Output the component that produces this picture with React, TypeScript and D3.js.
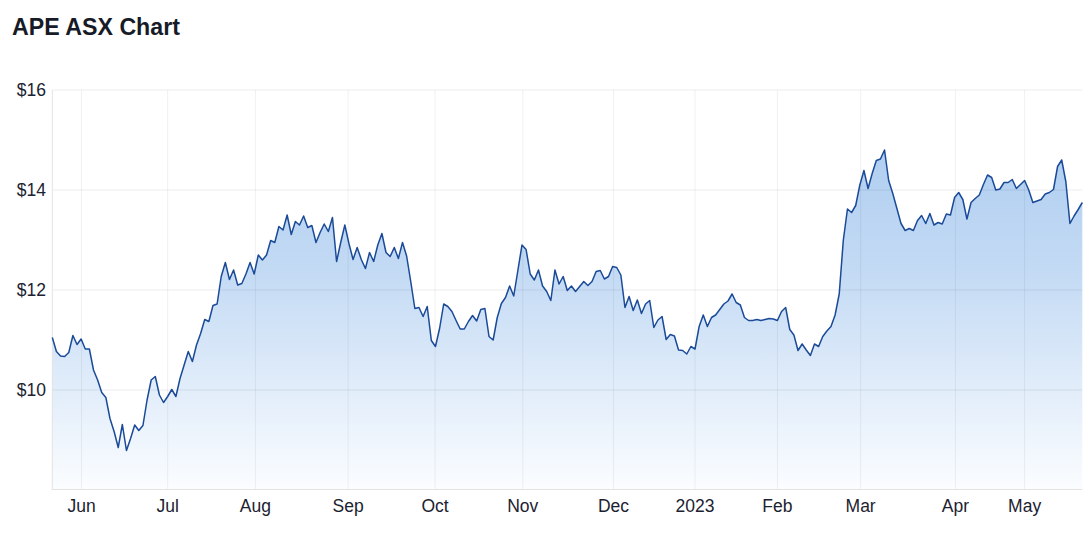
import React from "react";
import * as d3 from "d3";

const prices: number[] = [
  11.05, 10.77, 10.68, 10.67, 10.75, 11.09, 10.91, 11.02, 10.82, 10.82,
  10.4, 10.2, 9.95, 9.85, 9.43, 9.17, 8.85, 9.31, 8.79, 9.03,
  9.3, 9.19, 9.29, 9.8, 10.2, 10.27, 9.9, 9.75, 9.87, 10.01,
  9.87, 10.23, 10.5, 10.77, 10.57, 10.9, 11.13, 11.41, 11.37, 11.69,
  11.72, 12.27, 12.55, 12.21, 12.4, 12.1, 12.13, 12.32, 12.55, 12.32,
  12.7, 12.6,
  12.7, 12.99, 12.95, 13.27, 13.2, 13.5, 13.11, 13.37, 13.3, 13.48,
  13.25, 13.29, 12.95, 13.15, 13.32, 13.17, 13.45, 12.57, 12.95, 13.3,
  12.93, 12.61, 12.85, 12.61, 12.43, 12.75, 12.57, 12.9, 13.13, 12.75,
  12.67, 12.85, 12.63, 12.95, 12.68, 12.17, 11.63, 11.65, 11.47, 11.67,
  10.99, 10.87, 11.23, 11.72, 11.67, 11.57, 11.39, 11.22, 11.22, 11.37,
  11.49, 11.38, 11.61, 11.63, 11.07, 11.0, 11.45, 11.73, 11.85, 12.08,
  11.88, 12.39, 12.9, 12.81, 12.32, 12.2, 12.4, 12.08, 11.97, 11.79,
  12.4, 12.12, 12.27, 11.99, 12.08, 11.97, 12.07, 12.17, 12.09, 12.17,
  12.37, 12.39, 12.22, 12.27, 12.47, 12.45, 12.3, 11.65, 11.87, 11.59,
  11.8, 11.53, 11.72, 11.79, 11.25, 11.4, 11.47, 11.01, 11.11, 11.08,
  10.8, 10.79, 10.72, 10.87, 10.82, 11.27, 11.5, 11.27, 11.45, 11.5,
  11.61, 11.72, 11.78, 11.92, 11.75, 11.7, 11.45, 11.39, 11.39, 11.41,
  11.39, 11.41, 11.43, 11.42, 11.39, 11.57, 11.65, 11.21, 11.1, 10.79,
  10.92, 10.8, 10.69, 10.92, 10.87, 11.07, 11.18, 11.27, 11.5, 11.92,
  13.0, 13.62, 13.55, 13.69, 14.1, 14.39, 14.03, 14.33, 14.59, 14.62,
  14.8, 14.19, 13.93, 13.63, 13.33, 13.19, 13.23, 13.19, 13.39, 13.49,
  13.33, 13.53, 13.3, 13.35, 13.32, 13.52, 13.5, 13.85, 13.95, 13.81,
  13.42, 13.75, 13.83, 13.9, 14.11, 14.3, 14.25, 14.0, 14.02, 14.15,
  14.15, 14.21, 14.03, 14.11, 14.19, 14.0, 13.75, 13.78, 13.81, 13.92,
  13.95, 14.01, 14.47, 14.6, 14.17, 13.33, 13.48, 13.61, 13.75,
];

// month starts, in trading-day position along the series
const monthLabels: string[] = ["Jun", "Jul", "Aug", "Sep", "Oct", "Nov", "Dec", "2023", "Feb", "Mar", "Apr", "May"];
const monthPositions: number[] = [7.1, 28, 49.3, 71.8, 92.9, 114.2, 136.2, 156, 176, 196.2, 219.2, 236];

const yTicks: number[] = [10, 12, 14, 16];
const yDomain: [number, number] = [8, 16];

const W = 1092;
const H = 542;
const M = { left: 52.3, right: 1082.3, top: 90, bottom: 490 };

export default function App() {
  const x = d3.scaleLinear().domain([0, prices.length - 1]).range([M.left, M.right]);
  const y = d3.scaleLinear().domain(yDomain).range([M.bottom, M.top]);

  const line = d3
    .line<number>()
    .x((_, i) => x(i))
    .y((d) => y(d));
  const area = d3
    .area<number>()
    .x((_, i) => x(i))
    .y0(M.bottom)
    .y1((d) => y(d));

  const font = "'Liberation Sans', Arial, Helvetica, sans-serif";
  const textColor = "#1c2230";

  return (
    <svg
      width={W}
      height={H}
      style={{ position: "absolute", left: 0, top: 0, background: "#fff" }}
      fontFamily={font}
    >
      <defs>
        <linearGradient id="fillGrad" gradientUnits="userSpaceOnUse" x1="0" y1={M.top} x2="0" y2={M.bottom}>
          <stop offset="0%" stopColor="#a7c9ef" />
          <stop offset="45%" stopColor="#c3daf4" />
          <stop offset="100%" stopColor="#fbfdff" />
        </linearGradient>
      </defs>

      <text x={12} y={35} fontSize={23.2} fontWeight="bold" fill="#161b27">
        APE ASX Chart
      </text>

      <path d={area(prices) || ""} fill="url(#fillGrad)" />

      {/* grid */}
      {yTicks.map((t) => (
        <line key={"h" + t} x1={M.left} x2={M.right} y1={y(t)} y2={y(t)} stroke="#000" strokeOpacity={0.07} />
      ))}
      {monthPositions.map((p, i) => (
        <line key={"v" + i} x1={x(p)} x2={x(p)} y1={M.top} y2={M.bottom} stroke="#000" strokeOpacity={0.06} />
      ))}
      <line x1={M.left} x2={M.left} y1={M.top} y2={M.bottom} stroke="#e3e3e3" />
      <line x1={M.left} x2={M.right} y1={M.bottom - 0.5} y2={M.bottom - 0.5} stroke="#e3e3e3" />

      <path d={line(prices) || ""} fill="none" stroke="#1a4a98" strokeWidth={1.5} strokeLinejoin="round" />

      {yTicks.map((t) => (
        <text
          key={"yl" + t}
          x={46}
          y={y(t)}
          dy="0.35em"
          textAnchor="end"
          fontSize={17.5}
          fill={textColor}
        >
          {"$" + t}
        </text>
      ))}
      {monthLabels.map((l, i) => (
        <text key={"xl" + i} x={x(monthPositions[i])} y={512} textAnchor="middle" fontSize={17.5} fill={textColor}>
          {l}
        </text>
      ))}
    </svg>
  );
}
